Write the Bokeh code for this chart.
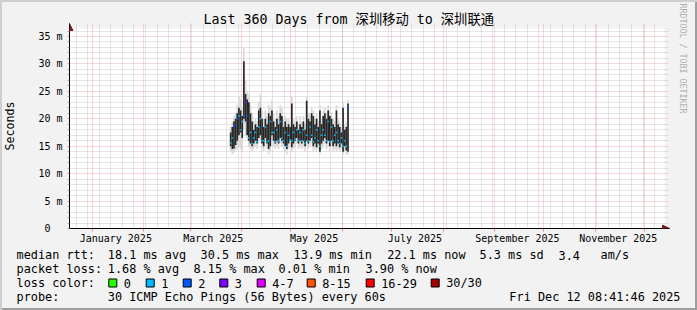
import pandas as pd
from bokeh.plotting import figure
from bokeh.core.properties import value
from bokeh.models import (Range1d, FixedTicker, Grid, Title, BoxAnnotation,
                          ColumnDataSource, CustomJSTickFormatter, DatetimeTickFormatter, Arrow, NormalHead)
from bokeh.embed import file_html
from bokeh.resources import INLINE

# ---------------- data ----------------
first_day = "2025-03-25"
dark_hi = [17.5, 18.5, 19.5, 20.0, 21.0, 22.0, 21.5, 20.5, 30.5, 24.5, 23.5, 23.0, 21.0, 19.5, 18.0, 19.0,
           18.5, 21.5, 22.0, 20.0, 18.5, 20.0, 19.0, 21.0, 20.5, 21.5, 19.5, 18.5, 20.0, 19.0, 21.0, 20.5,
           18.5, 19.5, 18.5, 19.0, 18.5, 22.8, 19.0, 18.5, 19.5, 18.0, 19.0, 18.5, 19.5, 18.0, 23.3, 20.0,
           19.5, 21.0, 20.5, 19.0, 20.0, 18.5, 21.5, 19.0, 20.5, 21.0, 20.0, 21.5, 20.5, 20.0, 19.0, 18.5,
           21.5, 19.0, 18.5, 17.5, 22.0, 18.0, 18.5, 22.8]
dark_lo = [15.0, 14.5, 14.6, 15.2, 16.0, 17.0, 17.5, 16.5, 20.0, 19.5, 17.0, 16.0, 15.5, 15.0, 15.5, 16.0,
           15.5, 16.5, 17.0, 15.5, 15.0, 16.5, 15.5, 14.5, 15.0, 17.0, 16.0, 15.5, 16.0, 15.5, 16.5, 16.0,
           15.5, 15.0, 14.5, 15.5, 16.0, 14.8, 15.5, 16.0, 16.5, 15.5, 16.0, 15.5, 16.0, 15.0, 16.0, 15.5,
           16.0, 16.5, 15.0, 15.5, 14.8, 15.5, 14.0, 15.5, 16.0, 16.5, 15.5, 16.0, 15.0, 16.0, 15.0, 15.5,
           15.0, 15.5, 14.8, 15.5, 14.0, 15.0, 14.2, 14.0]
smoke_hi = [18.5, 19.5, 20.5, 21.0, 22.5, 24.0, 23.5, 22.0, 33.0, 27.0, 25.0, 24.5, 22.5, 21.0, 19.5, 20.0,
            19.5, 23.0, 24.5, 21.5, 20.0, 21.5, 20.5, 22.5, 22.0, 23.5, 21.0, 20.0, 21.5, 20.5, 22.5, 22.0,
            20.0, 20.5, 20.0, 20.0, 19.5, 24.0, 20.0, 19.5, 20.5, 19.0, 20.5, 19.5, 20.5, 19.0, 24.0, 21.0,
            21.0, 22.0, 21.5, 20.0, 21.0, 19.5, 22.5, 20.0, 21.5, 22.0, 21.0, 22.5, 21.5, 21.0, 20.0, 19.5,
            22.5, 20.0, 19.5, 18.5, 23.0, 19.0, 19.5, 23.5]
smoke_lo = [14.0, 13.5, 13.8, 14.2, 14.5, 15.0, 14.5, 14.0, 18.0, 17.0, 16.0, 15.0, 14.5, 14.0, 14.5, 15.0,
            14.5, 15.5, 16.0, 14.5, 14.0, 15.5, 14.5, 13.5, 14.0, 16.0, 15.0, 14.5, 15.0, 14.5, 15.5, 15.0,
            14.5, 14.0, 13.5, 14.5, 15.0, 14.0, 14.5, 15.0, 15.5, 14.5, 15.0, 14.5, 15.0, 14.0, 15.0, 14.5,
            15.0, 15.5, 14.0, 14.5, 14.0, 14.5, 13.5, 14.5, 15.0, 15.5, 14.5, 15.0, 14.0, 15.0, 14.0, 14.5,
            14.0, 14.5, 14.0, 14.5, 13.5, 14.0, 13.5, 13.5]
median = [15.6, 16.5, 18.6, 18.8, 20.0, 20.5, 18.0, 19.5, 20.5, 23.0, 20.5, 16.5, 17.5, 15.5, 16.5, 17.5,
          15.8, 18.5, 20.0, 16.0, 16.0, 18.5, 15.8, 16.0, 19.5, 17.5, 17.5, 15.8, 18.0, 16.0, 19.5, 16.5,
          16.0, 17.5, 15.0, 17.0, 16.2, 16.0, 17.5, 16.3, 18.0, 16.0, 17.5, 16.0, 18.0, 15.5, 17.0, 16.0,
          18.5, 17.0, 15.8, 16.5, 18.0, 16.0, 15.0, 17.0, 18.0, 17.0, 16.0, 19.5, 15.8, 18.5, 16.0, 17.0,
          17.5, 16.0, 15.5, 16.5, 15.0, 16.0, 15.0, 22.1]
loss_bucket = [1, 1, 2, 2, 2, 1, 1, 1, 2, 3, 2, 1, 1, 1, 1, 1,
               1, 1, 1, 1, 1, 1, 1, 1, 1, 1, 1, 1, 1, 1, 1, 1,
               1, 1, 1, 1, 1, 1, 1, 1, 1, 1, 1, 1, 1, 1, 1, 1,
               1, 1, 1, 1, 1, 1, 1, 1, 1, 1, 1, 1, 1, 1, 1, 1,
               1, 1, 1, 1, 1, 1, 1, 2]

loss_labels = ["0", "1", "2", "3", "4-7", "8-15", "16-29", "30/30"]
loss_colors = ["#26ff00", "#00b8ff", "#0059ff", "#7e00ff", "#dd00ff", "#ff5500", "#ff0000", "#a10000"]

y_major_ticks = [0, 5, 10, 15, 20, 25, 30, 35]
y_minor_ticks = [v for v in range(0, 37) if v % 5 != 0]
x_label_dates = ["2025-01-15", "2025-03-15", "2025-05-15", "2025-07-15", "2025-09-15", "2025-11-15"]

median_stats = ["18.1 ms avg", "30.5 ms max", "13.9 ms min", "22.1 ms now", "5.3 ms sd", "3.4", "am/s"]
loss_stats = ["1.68 % avg", "8.15 % max", "0.01 % min", "3.90 % now"]
probe_text = "30 ICMP Echo Pings (56 Bytes) every 60s"
stamp_text = "Fri Dec 12 08:41:46 2025"
title_text = "Last 360 Days from 深圳移动 to 深圳联通"

# ---------------- layout constants ----------------
W, H = 697, 310
H1 = 246                      # chart part
H2 = H - H1                   # text/legend part
FL, FT, FR, FB = 67, 23, 672, 228   # frame incl. arrow tips
FONT = "DejaVu Sans Mono, Noto Sans CJK SC"
BACK = "#f2f2f2"
GRID_C = "#8f8f8f"
MGRID_C = "#de4f4f"
ARROW_C = "#801f1f"
LIGHT, DARK = "#cfcfcf", "#9e9e9e"

x_start = pd.Timestamp("2024-12-18")
x_end = pd.Timestamp("2025-12-13")
x_frame_end = pd.Timestamp("2025-12-16")
y_top = 36.46
y_frame_top = 37.37

days = pd.date_range(first_day, periods=len(median), freq="D")
src = ColumnDataSource(dict(
    left=days, right=days + pd.Timedelta(days=1),
    dark_hi=dark_hi, dark_lo=dark_lo, smoke_hi=smoke_hi, smoke_lo=smoke_lo,
    median=median, color=[loss_colors[b] for b in loss_bucket],
))

p = figure(width=W, height=H1, x_axis_type="datetime",
           x_range=Range1d(x_start, x_frame_end), y_range=Range1d(0, y_frame_top),
           output_backend="svg", toolbar_location=None,
           min_border_left=FL, min_border_right=W - FR, min_border_top=FT, min_border_bottom=H1 - FB)
p.border_fill_color = None
p.background_fill_color = None
p.outline_line_color = None
p.styles = {"background-color": BACK,
            "box-shadow": f"inset 2px 2px 0 {LIGHT}, inset -2px 0 0 {DARK}"}

x_start_ms = x_start.value / 1e6
x_end_ms = x_end.value / 1e6
x_frame_end_ms = x_frame_end.value / 1e6

# white canvas of the graph
p.add_layout(BoxAnnotation(left=x_start_ms, right=x_end_ms, bottom=0, top=y_top,
                           fill_color="white", fill_alpha=1, line_color=None, level="image"))

# grids
month_starts = pd.date_range("2025-01-01", "2025-12-01", freq="MS")
sundays = pd.date_range("2024-12-18", "2025-12-13", freq="W-SUN")
p.xgrid.ticker = FixedTicker(ticks=[t.value / 1e6 for t in month_starts])
p.xgrid.grid_line_color = MGRID_C
p.xgrid.grid_line_alpha = 0.45
p.xgrid.grid_line_dash = "1 1"
wk = Grid(dimension=0, ticker=FixedTicker(ticks=[t.value / 1e6 for t in sundays]),
          grid_line_color=GRID_C, grid_line_alpha=0.45, grid_line_dash="1 1")
p.add_layout(wk)
p.ygrid.ticker = FixedTicker(ticks=y_major_ticks, minor_ticks=y_minor_ticks)
p.ygrid.grid_line_color = MGRID_C
p.ygrid.grid_line_alpha = 0.45
p.ygrid.grid_line_dash = "1 1"
p.ygrid.minor_grid_line_color = GRID_C
p.ygrid.minor_grid_line_alpha = 0.45
p.ygrid.minor_grid_line_dash = "1 1"

# data marks
p.quad(left="left", right="right", bottom="smoke_lo", top="smoke_hi", source=src,
       fill_color="#d9d9d9", line_color=None)
p.quad(left="left", right="right", bottom="dark_lo", top="dark_hi", source=src,
       fill_color="#262626", line_color=None)
p.segment(x0="left", x1="right", y0="median", y1="median", source=src,
          line_color="color", line_width=1.5)

# axes
ax = p.xaxis[0]
ax.ticker = FixedTicker(ticks=[pd.Timestamp(d).value / 1e6 for d in x_label_dates],
                        minor_ticks=[t.value / 1e6 for t in month_starts])
ax.formatter = DatetimeTickFormatter(days="%B %Y", months="%B %Y", years="%B %Y")
ax.major_tick_out = 0
ax.major_tick_in = 0
ax.minor_tick_out = 3
ax.minor_tick_in = 0
ax.minor_tick_line_color = MGRID_C
ax.minor_tick_line_alpha = 0.6
ax.axis_line_color = "black"
ax.major_label_standoff = 1
ax.major_label_text_font = FONT
ax.major_label_text_font_size = "10px"
ax.major_label_text_color = "black"

ay = p.yaxis[0]
ay.ticker = FixedTicker(ticks=y_major_ticks, minor_ticks=y_minor_ticks)
ay.formatter = CustomJSTickFormatter(code="return tick == 0 ? '0\u00a0\u00a0' : tick.toFixed(0) + ' m';")
ay.major_tick_out = 2
ay.major_tick_in = 0
ay.minor_tick_out = 2
ay.minor_tick_in = 0
ay.major_tick_line_color = MGRID_C
ay.major_tick_line_alpha = 0.6
ay.minor_tick_line_color = GRID_C
ay.minor_tick_line_alpha = 0.7
ay.axis_line_color = "black"
ay.major_label_standoff = 5
ay.major_label_text_font = FONT
ay.major_label_text_font_size = "10px"
ay.major_label_text_color = "black"
ay.axis_label = "Seconds"
ay.axis_label_text_font = FONT
ay.axis_label_text_font_size = "11.6px"
ay.axis_label_text_font_style = "normal"
ay.axis_label_text_color = "black"
ay.axis_label_standoff = 18

# axis arrows (tips at the frame edges)
p.add_layout(Arrow(end=NormalHead(size=7, fill_color=ARROW_C, line_color=ARROW_C),
                   x_start=x_end_ms, y_start=0, x_end=x_frame_end_ms, y_end=0,
                   line_color="black", line_width=1))
p.add_layout(Arrow(end=NormalHead(size=7, fill_color=ARROW_C, line_color=ARROW_C),
                   x_start=x_start_ms, y_start=y_top, x_end=x_start_ms, y_end=y_frame_top,
                   line_color="black", line_width=1))

# title and watermark
p.title.text = title_text
p.title.align = "left"
p.title.offset = 201 - FL
p.title.text_font = FONT
p.title.text_font_size = "13.3px"
p.title.text_font_style = "normal"
p.title.text_color = "black"
p.title.standoff = -7
p.add_layout(Title(text="RRDTOOL / TOBI OETIKER", align="left", offset=-20, standoff=16,
                   text_font=FONT, text_font_size="8.3px", text_font_style="normal",
                   text_color="#b0b0b0"), "right")

# ---------------- lower text block ----------------
q = figure(width=W, height=H2, x_range=Range1d(0, W), y_range=Range1d(H2, 0),
           output_backend="svg", toolbar_location=None, min_border=0,
           x_axis_location=None, y_axis_location=None)
q.grid.visible = False
q.outline_line_color = None
q.background_fill_color = None
q.border_fill_color = None
q.styles = {"background-color": BACK,
            "box-shadow": f"inset 2px 0 0 {LIGHT}, inset -2px -2px 0 {DARK}"}

rows = [254.5 - H1, 268.5 - H1, 282.5 - H1, 296.5 - H1]
txt, tx, ty = [], [], []


def put(t, X, row):
    txt.append(t)
    tx.append(X)
    ty.append(row)


put("median rtt:", 16, rows[0])
for t, X in zip(median_stats, [107.3, 200, 293, 386.7, 479, 558, 600]):
    put(t, X, rows[0])
put("packet loss:", 16, rows[1])
for t, X in zip(loss_stats, [107.3, 193, 278, 365]):
    put(t, X, rows[1])
put("loss color:", 16, rows[2])
sq_left = [108.3, 145.7, 182.7, 219.3, 256.7, 306.7, 365.7, 430.7]
for t, X in zip(loss_labels, sq_left):
    put(t, X + 15, rows[2])
put("probe:", 16, rows[3])
put(probe_text, 107.3, rows[3])
q.text(x=tx, y=ty, text=txt, text_font=value(FONT), text_font_size=value("11.85px"),
       text_baseline="middle", text_align="left", text_color="black")
q.text(x=[680], y=[rows[3]], text=[stamp_text], text_font=value(FONT), text_font_size=value("11.85px"),
       text_baseline="middle", text_align="right", text_color="black")
q.rect(x=[v + 4 for v in sq_left], y=[rows[2]] * len(sq_left), width=8, height=8,
       fill_color=loss_colors, line_color="black", line_width=1)

open("out.html", "w").write(file_html([p, q], INLINE))
